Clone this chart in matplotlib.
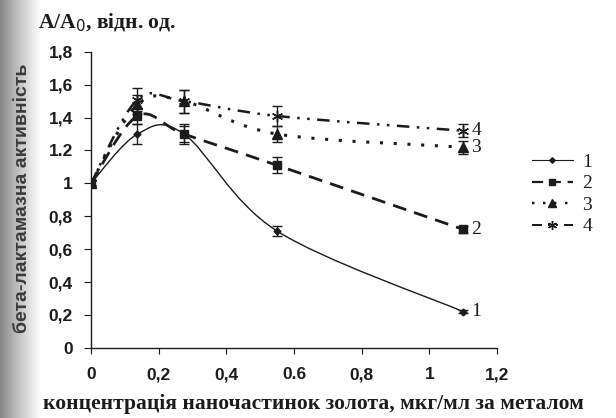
import numpy as np
import matplotlib.pyplot as plt
from matplotlib.path import Path
from matplotlib.patches import PathPatch
from matplotlib.lines import Line2D

# концентрація, мкг/мл
conc = [0, 0.1375, 0.275, 0.55, 1.1]

series1 = [1.0, 1.30, 1.30, 0.71, 0.22]
series2 = [1.0, 1.41, 1.30, 1.11, 0.72]
series3 = [1.0, 1.48, 1.50, 1.30, 1.22]
series4 = [1.0, 1.51, 1.50, 1.41, 1.32]

err1 = [0.02, 0.06, 0.05, 0.03, 0.01]
err2 = [0.02, 0.05, 0.06, 0.05, 0.02]
err3 = [0.02, 0.06, 0.07, 0.05, 0.04]
err4 = [0.02, 0.07, 0.07, 0.06, 0.04]

series_names = ['1', '2', '3', '4']
x_ticks = [0, 0.2, 0.4, 0.6, 0.8, 1.0, 1.2]
x_ticklabels = ['0', '0,2', '0,4', '0.6', '0,8', '1', '1,2']
y_ticks = [0, 0.2, 0.4, 0.6, 0.8, 1.0, 1.2, 1.4, 1.6, 1.8]
y_ticklabels = ['0', '0,2', '0,4', '0,6', '0,8', '1', '1.2', '1,4', '1,6', '1,8']

INK = '#1c1c1c'


def smooth_path(xs, ys):
    # catmull-rom -> cubic bezier, like excel "smoothed line"
    pts = np.column_stack([xs, ys]).astype(float)
    verts = [pts[0]]
    codes = [Path.MOVETO]
    n = len(pts)
    for i in range(n - 1):
        p0 = pts[max(i - 1, 0)]
        p1 = pts[i]
        p2 = pts[i + 1]
        p3 = pts[min(i + 2, n - 1)]
        c1 = p1 + (p2 - p0) / 6.0
        c2 = p2 - (p3 - p1) / 6.0
        verts += [c1, c2, p2]
        codes += [Path.CURVE4] * 3
    return Path(verts, codes)


fig = plt.figure(figsize=(6.16, 4.18), dpi=100)

# scan shadow on left edge
shade = fig.add_axes([0, 0, 0.065, 1])
grad = np.linspace(0.4, 1.0, 64)[None, :] ** 0.7
shade.imshow(grad, aspect='auto', cmap='gray', vmin=0, vmax=1, extent=[0, 1, 0, 1])
shade.axis('off')

ax = fig.add_axes([0.1477, 0.168, 0.659, 0.708])

styles = [
    dict(ls='-', lw=1.0, marker='D', ms=3.5, data=series1, err=err1),
    dict(ls=(0, (5, 3)), lw=2.0, marker='s', ms=6, data=series2, err=err2),
    dict(ls=(0, (1, 3.5)), lw=2.2, marker='^', ms=6.5, data=series3, err=err3),
    dict(ls=(0, (5, 3, 1, 3, 1, 3)), lw=1.8, marker=(6, 2, 0), ms=8, data=series4, err=err4),
]

handles = []
for name, st in zip(series_names, styles):
    path = smooth_path(conc, st['data'])
    patch = PathPatch(path, fill=False, edgecolor=INK, lw=st['lw'], linestyle=st['ls'],
                      capstyle='butt', zorder=2)
    ax.add_patch(patch)
    ax.errorbar(conc, st['data'], yerr=st['err'], fmt='none', ecolor=INK,
                elinewidth=1.0, capsize=3.5, capthick=1.0, zorder=3)
    ax.plot(conc, st['data'], ls='none', marker=st['marker'], ms=st['ms'],
            color=INK, mec=INK, zorder=4)
    handles.append(Line2D([0], [0], color=INK, lw=st['lw'] * 0.8, ls=st['ls'],
                          marker=st['marker'], ms=st['ms'] * 0.8))

# labels at end of curves
for name, st in zip(series_names, styles):
    ax.text(conc[-1] + 0.025, st['data'][-1], name, fontsize=14, family='Liberation Serif',
            va='center', ha='left', color=INK)

ax.set_xlim(0, 1.2)
ax.set_ylim(0, 1.8)
ax.set_xticks(x_ticks)
ax.set_xticklabels(x_ticklabels)
ax.set_yticks(y_ticks)
ax.set_yticklabels(y_ticklabels)
for lab in ax.get_xticklabels() + ax.get_yticklabels():
    lab.set_fontfamily('Liberation Sans')
    lab.set_fontweight('bold')
    lab.set_fontsize(12.5)
    lab.set_color(INK)
ax.tick_params(axis='x', direction='out', length=4, pad=10, color=INK)
ax.tick_params(axis='y', direction='out', length=5, pad=8, color=INK)
ax.spines['top'].set_visible(False)
ax.spines['right'].set_visible(False)
ax.spines['left'].set_color(INK)
ax.spines['bottom'].set_color(INK)
ax.spines['left'].set_linewidth(1.0)
ax.spines['bottom'].set_linewidth(1.0)

leg = fig.legend(handles, series_names, loc='upper left', bbox_to_anchor=(0.835, 0.675),
                 frameon=False, handlelength=2.1, labelspacing=0.2, handletextpad=0.5,
                 prop={'family': 'Liberation Serif', 'size': 14})
for t in leg.get_texts():
    t.set_color(INK)

fig.text(0.062, 0.945, 'A/A$_0$, відн. од.', fontsize=15.5, fontweight='bold',
         family='Liberation Serif', color=INK, va='center')
fig.text(0.037, 0.525, 'бета-лактамазна активність', rotation=90, fontsize=14,
         fontweight='bold', family='Liberation Sans', color='#3a3a3a', va='center', ha='center')
fig.text(0.07, 0.033, 'концентрація наночастинок золота, мкг/мл за металом',
         fontsize=15.5, fontweight='bold', family='Liberation Serif', color=INK, va='center')

fig.savefig('out.png', dpi=100)
